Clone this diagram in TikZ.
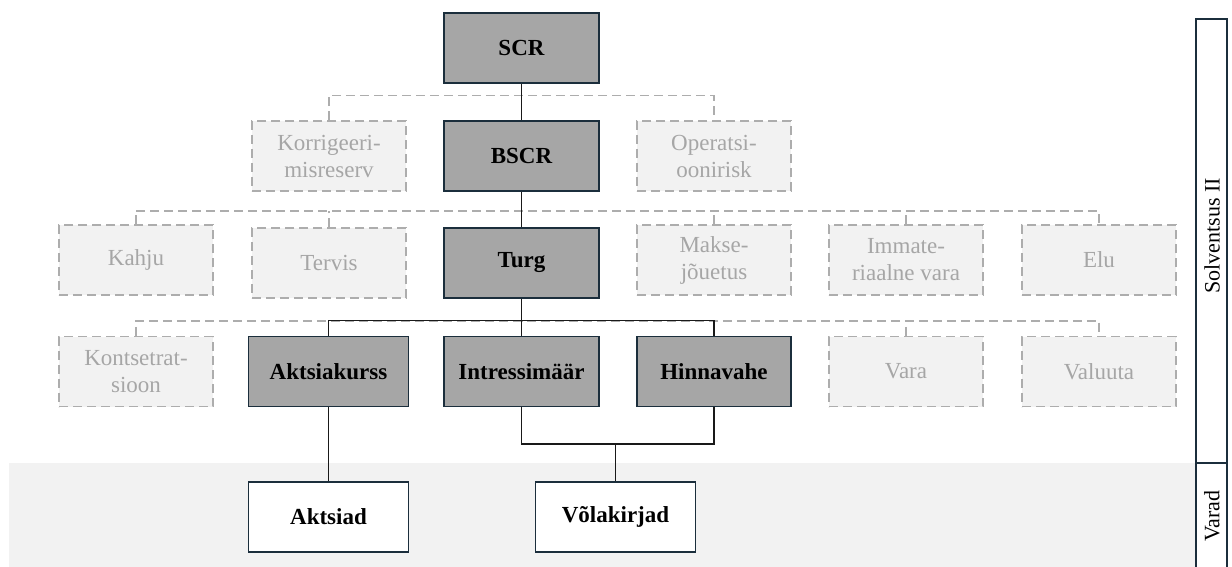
\documentclass[tikz,border=0pt]{standalone}
\usepackage{fontspec}
\setmainfont{Liberation Serif}
\definecolor{navy}{HTML}{1B2E3C}
\definecolor{boxgray}{HTML}{A6A6A6}
\definecolor{lightfill}{HTML}{F2F2F2}
\definecolor{dashgray}{HTML}{ADADAD}
\definecolor{textgray}{HTML}{A6A6A6}
\begin{document}
\begin{tikzpicture}[x=1pt,y=-1pt,
  mainbox/.style={draw=navy, line width=1.5pt, fill=boxgray, minimum width=155pt, minimum height=70pt, inner sep=0pt, font=\fontsize{23}{27}\selectfont\bfseries, text=black},
  assetbox/.style={mainbox, fill=white, minimum width=160pt},
  ghostbox/.style={draw=dashgray, line width=1.5pt, dash pattern=on 9pt off 5pt, fill=lightfill, minimum width=154pt, minimum height=70pt, inner sep=0pt, align=center, font=\fontsize{23}{27}\selectfont, text=textgray},
  link/.style={draw=black!90, line width=1.5pt},
  ghostlink/.style={draw=dashgray, line width=1.6pt, dash pattern=on 9pt off 5pt},
  sidelabel/.style={rotate=90, font=\fontsize{22}{26}\selectfont, text=black, inner sep=0pt}
]
\useasboundingbox (0,0) rectangle (1232,567);
% background band
\fill[lightfill] (9,462.7) rectangle (1196,567);
% side bars
\draw[navy, line width=2pt] (1196,575) -- (1196,19) -- (1227,19) -- (1227,575);
\draw[navy, line width=2pt] (1196,462.7) -- (1227,462.7);
\node[sidelabel] (solv) at (1212,236) {Solventsus II};
\node[sidelabel] (varad) at (1212,516) {Varad};

% junction coordinates
\coordinate (j1) at (521.5,95.7);
\coordinate (j2) at (521.5,210.7);
\coordinate (j3) at (521.5,320.7);
\coordinate (j4) at (615.5,444);

% ghost boxes
\node[ghostbox] (korr) at (329,156) {Korrigeeri-\\misreserv};
\node[ghostbox] (oper) at (714,156) {Operatsi-\\oonirisk};
\node[ghostbox] (kahju) at (136,260) {Kahju};
\node[ghostbox] (tervis) at (329,263) {Tervis};
\node[ghostbox] (makse) at (714,260) {Makse-\\jõuetus};
\node[ghostbox] (immat) at (906,260) {Immate-\\riaalne vara};
\node[ghostbox] (elu) at (1099,260) {Elu};
\node[ghostbox] (kont) at (136,371.5) {Kontsetrat-\\sioon};
\node[ghostbox] (vara) at (906,371.5) {Vara};
\node[ghostbox] (valuuta) at (1099,371.5) {Valuuta};

% main boxes
\node[mainbox] (scr) at (521.5,48) {SCR};
\node[mainbox] (bscr) at (521.5,156) {BSCR};
\node[mainbox] (turg) at (521.5,263) {Turg};
\node[mainbox, minimum width=160pt] (aktk) at (328.5,371.5) {Aktsiakurss};
\node[mainbox] (intr) at (521.5,371.5) {Intressimäär};
\node[mainbox, minimum width=154pt] (hinn) at (714,371.5) {Hinnavahe};
\node[assetbox] (akts) at (328.5,517) {Aktsiad};
\node[assetbox] (vola) at (615.5,517) {Võlakirjad};

% dashed connectors (each horizontal run drawn once)
\draw[ghostlink] (korr.north) |- (j1) -| (oper.north);
\draw[ghostlink] (kahju.north) |- (j2) -| (elu.north);
\draw[ghostlink] (tervis.north) -- (tervis.north |- j2);
\draw[ghostlink] (makse.north) -- (makse.north |- j2);
\draw[ghostlink] (immat.north) -- (immat.north |- j2);
\draw[ghostlink] (kont.north) |- (j3) -| (valuuta.north);
\draw[ghostlink] (vara.north) -- (vara.north |- j3);

% solid connectors
\draw[link] (scr.south) -- (bscr.north);
\draw[link] (bscr.south) -- (turg.north);
\draw[link] (turg.south) -- (intr.north);
\draw[link] (aktk.north) |- (j3) -| (hinn.north);
\draw[link] (aktk.south) -- (akts.north);
\draw[link] (intr.south) |- (j4) -| (hinn.south);
\draw[link] (j4) -- (vola.north);
\end{tikzpicture}
\end{document}
